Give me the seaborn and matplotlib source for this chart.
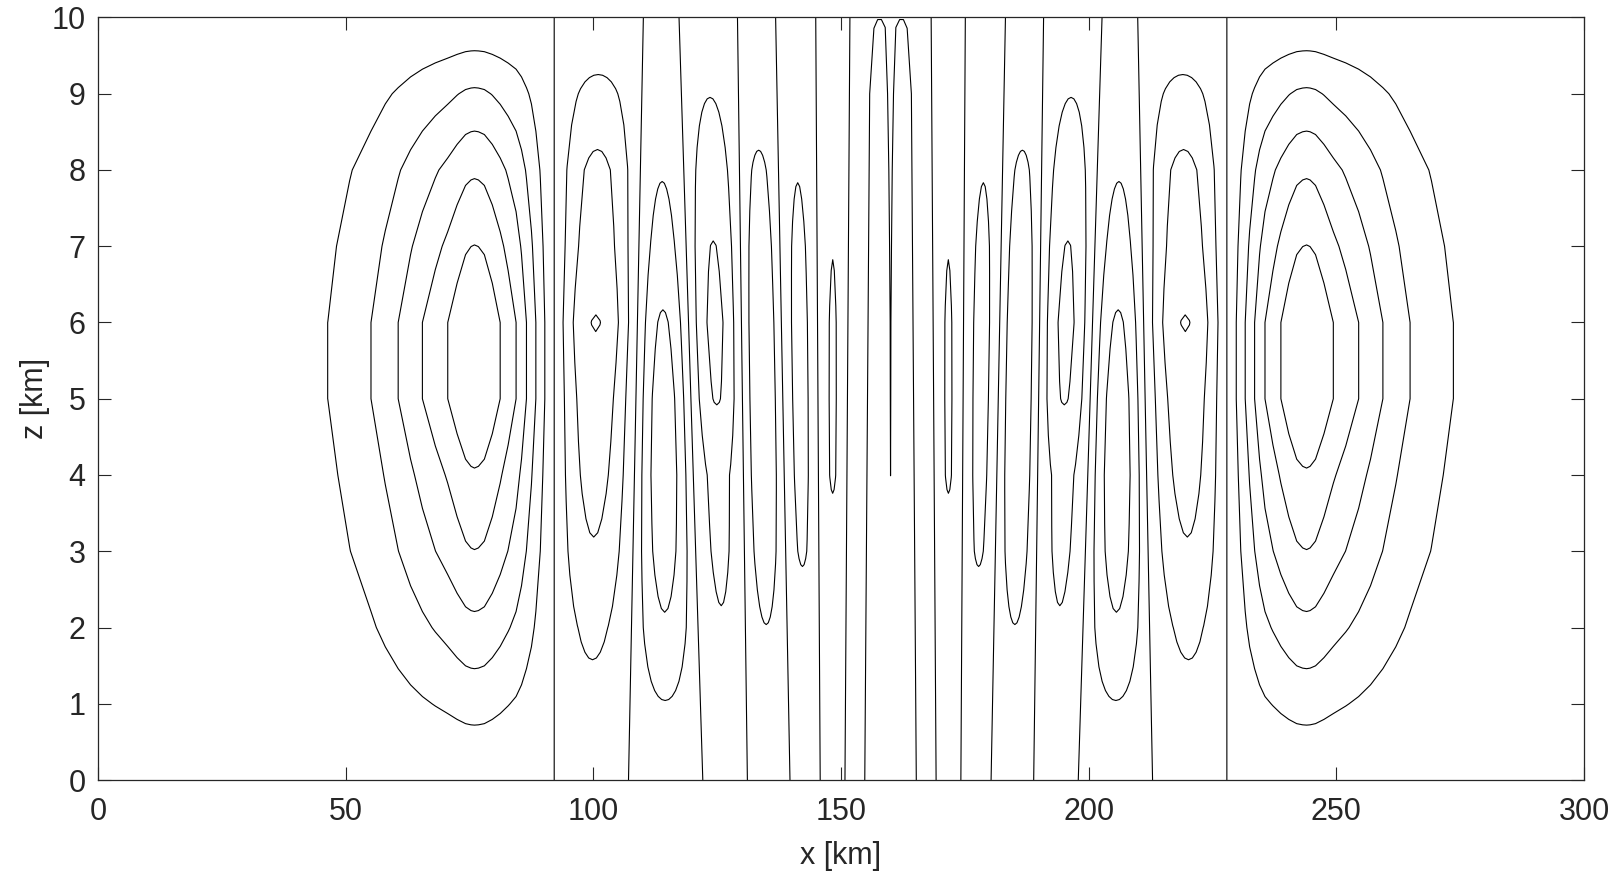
import numpy as np
import matplotlib
matplotlib.use("Agg")
import matplotlib.pyplot as plt
import seaborn as sns

# ---------------- data ----------------
z_km = [0, 1, 2, 3, 4, 5, 6, 7, 8, 9, 10]
x_ticks = [0, 50, 100, 150, 200, 250, 300]
z_ticks = [0, 1, 2, 3, 4, 5, 6, 7, 8, 9, 10]
contour_levels = [-5, -4, -3, -2, -1, 0, 1, 2, 3, 4, 5]
mirror_x = 160.0  # field is mirror-symmetric about this x

# big outer cell (left side), horizontal shape and vertical profile
big_x = [0, 10, 20, 30, 38, 42, 46.4, 50.8, 55.1, 58.0, 60.6, 63.1, 65.5,
         68.1, 70.6, 72.5, 74.2, 75.3, 76.0, 76.8, 78.0, 79.6, 81.2, 82.8,
         84.4, 85.5, 86.5, 87.5, 88.4, 89.3, 90.2]
big_shape = [0.001, 0.004, 0.012, 0.035, 0.085, 0.12, 0.167, 0.248, 0.333,
             0.418, 0.5, 0.585, 0.667, 0.752, 0.833, 0.91, 0.975, 0.995,
             1.0, 0.995, 0.975, 0.91, 0.833, 0.75, 0.667, 0.585, 0.5, 0.418,
             0.333, 0.25, 0.167]
big_profile = [0.05, 1.37, 2.74, 3.98, 4.90, 6.0, 6.0, 5.02, 3.87, 2.165, 0.1]

# zero lines (cell edges) at z = 0 and z = 10
zero_x_bottom = [92.1, 107.1, 122.1, 131.1, 139.7, 145.8, 150.8, 154.8]
zero_x_top = [92.1, 110.1, 117.3, 129.1, 136.8, 144.9, 151.8, 155.9]

# inner cells between consecutive zero lines
cell_signs = [-1, 1, -1, 1, -1, 1, -1]
profile_100 = [0.04, 0.70, 1.22, 1.92, 2.35, 2.63, 3.05, 2.55, 2.25, 1.32, 0.05]
profile_115 = [0.05, 0.96, 1.90, 2.40, 2.60, 2.50, 2.11, 1.45, 0.92, 0.50, 0.03]
profile_126 = [0.03, 0.45, 0.92, 1.20, 1.31, 2.06, 2.25, 2.03, 1.60, 0.97, 0.05]
profile_135 = [0.03, 0.50, 0.98, 1.50, 1.75, 1.82, 1.80, 1.60, 1.20, 0.43, 0.03]
profile_143 = [0.02, 0.30, 0.60, 1.10, 1.25, 1.30, 1.30, 1.20, 0.96, 0.60, 0.03]
profile_148 = [0.02, 0.28, 0.55, 0.81, 1.06, 1.08, 1.07, 0.985, 0.80, 0.50, 0.02]
profile_153 = [0.01, 0.15, 0.30, 0.45, 0.55, 0.60, 0.60, 0.55, 0.45, 0.30, 0.02]
cell_t = [0, 0.05, 0.1, 0.15, 0.2, 0.25, 0.3, 0.35, 0.4, 0.45, 0.5, 0.55,
          0.6, 0.65, 0.7, 0.75, 0.8, 0.85, 0.9, 0.95, 1.0]
cell_shape = [0, 0.156, 0.309, 0.454, 0.588, 0.707, 0.809, 0.891, 0.951,
              0.988, 1.0, 0.988, 0.951, 0.891, 0.809, 0.707, 0.588, 0.454,
              0.309, 0.156, 0]

# central cell (half, up to the finger wall) and the centre column
b_t = [0, 0.25, 0.5, 0.75, 1.0]
b_shape = [0, 0.38, 0.71, 0.92, 1.0]
b_profile = [0.02, 0.20, 0.35, 0.45, 0.50, 0.50, 0.50, 0.48, 0.45, 0.40]
b_top_row = [0, -0.025, -0.008, -0.01, -0.06]   # values at z = 10
finger_wall = [159.8, 159.8, 159.8, 159.8, 159.8, 159.8, 159.8, 159.6,
               159.4, 159.1, 158.9]
center_profile = [0.02, 0.20, 0.35, 0.40, -0.004, -0.15, -0.30, -0.45, -0.60,
                  -0.80, -0.05]

cell_profiles = [profile_100, profile_115, profile_126, profile_135,
                 profile_143, profile_148, profile_153]

# ---------------- build the gridded field ----------------
rows_x, rows_z, rows_v = [], [], []
for j, z in enumerate(z_km):
    f = z / 10.0
    xs, vs = [], []
    for xx, s in zip(big_x, big_shape):
        xs.append(xx)
        vs.append(s * big_profile[j])
    edges = [b + (t - b) * f for b, t in zip(zero_x_bottom, zero_x_top)]
    for k, (prof, sgn) in enumerate(zip(cell_profiles, cell_signs)):
        a, b = edges[k], edges[k + 1]
        for tt, s in zip(cell_t[:-1], cell_shape[:-1]):
            xs.append(a + tt * (b - a))
            vs.append(sgn * prof[j] * s)
    a, w = edges[-1], finger_wall[j]
    for i, (tt, s) in enumerate(zip(b_t, b_shape)):
        xs.append(a + tt * (w - a))
        if j < len(b_profile):
            vs.append(b_profile[j] * s)
        else:
            vs.append(b_top_row[i])
    full_x = xs + [mirror_x] + [2 * mirror_x - x for x in reversed(xs)]
    full_v = vs + [center_profile[j]] + list(reversed(vs))
    rows_x.append(full_x)
    rows_v.append(full_v)
    rows_z.append([z] * len(full_x))

X = np.array(rows_x)
Zg = np.array(rows_z)
V = np.array(rows_v)

# ---------------- plot ----------------
sns.set_style("ticks")
plt.rcParams['font.family'] = ['Liberation Sans', 'DejaVu Sans']

fig = plt.figure(figsize=(16.15, 8.82), dpi=100)
ax = fig.add_axes([98 / 1615, 1 - 780 / 882, (1584 - 98) / 1615,
                   (780 - 17.5) / 882])
ax.contour(X, Zg, V, levels=contour_levels, colors='black',
           linewidths=0.8, linestyles='solid')

ax.set_xlim(0, 300)
ax.set_ylim(0, 10)
ax.set_xticks(x_ticks)
ax.set_yticks(z_ticks)
fg = '#262626'
ax.tick_params(axis='both', direction='in', length=9.5, width=0.8,
               top=True, right=True, colors=fg, labelsize=22)
ax.tick_params(axis='x', pad=12)
ax.tick_params(axis='y', pad=9)
for sp in ax.spines.values():
    sp.set_visible(True)
    sp.set_linewidth(0.9)
    sp.set_color(fg)
ax.set_xlabel('x [km]', fontsize=22, color=fg, labelpad=10)
ax.set_ylabel('z [km]', fontsize=22, color=fg, labelpad=1)
ax.set_facecolor('white')
fig.patch.set_facecolor('white')

fig.savefig('out.png', dpi=100, facecolor='white')
